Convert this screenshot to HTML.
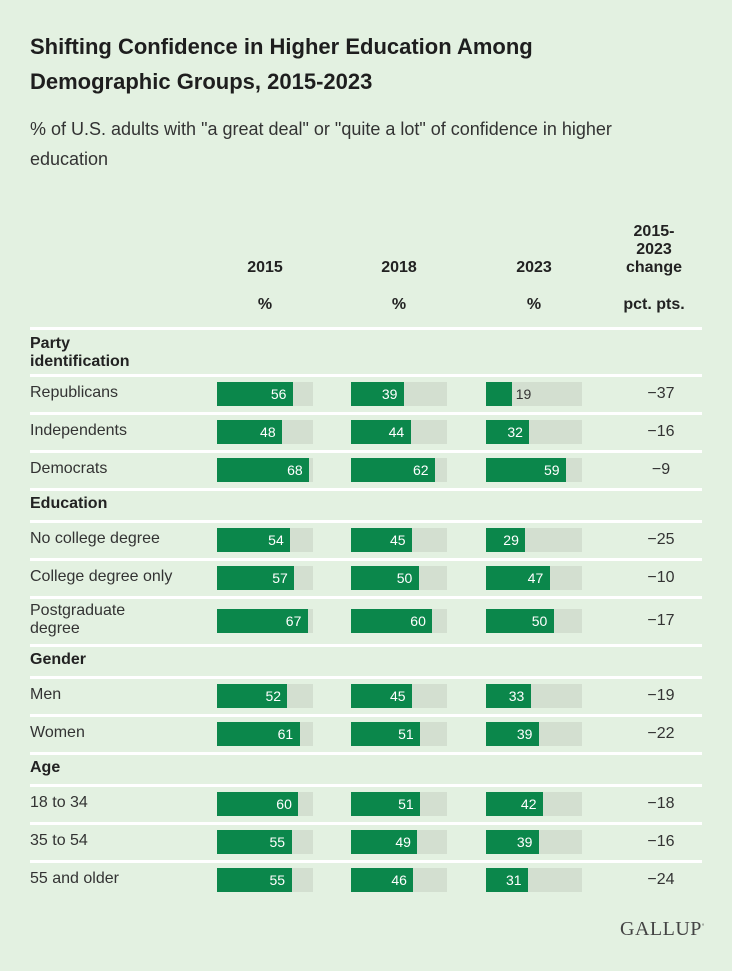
<!DOCTYPE html>
<html><head><meta charset="utf-8"><style>
body{margin:0;background:#e3f1e1;font-family:"Liberation Sans",Arial,sans-serif;color:#222;}
#wrap{position:relative;width:732px;height:971px;overflow:hidden;}
.t{position:absolute;white-space:nowrap;}
.title{left:30px;font-size:22px;font-weight:bold;color:#1e1e1e;}
.sub{left:30px;font-size:18px;color:#333;}
.hd{font-size:16px;font-weight:bold;text-align:center;width:100px;}
.sep{position:absolute;left:30px;width:672px;height:3px;background:#fff;}
.lab{left:30px;font-size:16px;color:#333;line-height:18px;}
.grp{left:30px;font-size:16px;font-weight:bold;line-height:18px;}
</style></head><body><div id="wrap">
<div class="t title" style="top:34px">Shifting Confidence in Higher Education Among</div>
<div class="t title" style="top:69px">Demographic Groups, 2015-2023</div>
<div class="t sub" style="top:119px">% of U.S. adults with "a great deal" or "quite a lot" of confidence in higher</div>
<div class="t sub" style="top:149px">education</div>
<div class="t hd" style="left:215px;top:259px">2015</div>
<div class="t hd" style="left:349px;top:259px">2018</div>
<div class="t hd" style="left:484px;top:259px">2023</div>
<div class="t hd" style="left:215px;top:296px">%</div>
<div class="t hd" style="left:349px;top:296px">%</div>
<div class="t hd" style="left:484px;top:296px">%</div>
<div class="t hd" style="left:604px;top:223px;line-height:18px">2015-<br>2023<br>change</div>
<div class="t hd" style="left:604px;top:296px">pct. pts.</div>
<div id="rows"></div>
<div class="t" style="left:620px;top:918px;font-family:'Liberation Serif',serif;font-size:20px;color:#444;letter-spacing:0.5px">GALLUP<sup style="font-size:6px">°</sup></div>
</div>
<script>
const labels=["Republicans","Independents","Democrats","No college degree","College degree only","Postgraduate degree","Men","Women","18 to 34","35 to 54","55 and older"];
const v2015=[56,48,68,54,57,67,52,61,60,55,55];
const v2018=[39,44,62,45,50,60,45,51,51,49,46];
const v2023=[19,32,59,29,47,50,33,39,42,39,31];
const changes=["−37","−16","−9","−25","−10","−17","−19","−22","−18","−16","−24"];
const groups=["Party identification","Education","Gender","Age"];
const groupStart=[0,3,6,8];
const W=document.getElementById('wrap');
const scale=1.355;
const cols=[217,351,486];
function add(cls,style,html){const d=document.createElement('div');d.className=cls;d.style.cssText=style;d.innerHTML=html;W.appendChild(d);return d;}
// layout rows
let y=327;
let sep=add('sep','top:'+y+'px','');


let gi=0;
for(let i=0;i<labels.length;i++){
  if(gi<groups.length&&groupStart[gi]===i){
    const two=groups[gi]==="Party identification";
    const h=two?47:32;
    const g=add('t grp','top:'+(y+(two?8:7))+'px;'+(two?'white-space:normal;width:120px':''),groups[gi]);
    
    
    y+=h;
    const s=add('sep','top:'+y+'px','');
    
    
    gi++;
  }
  const two=labels[i]==="Postgraduate degree";
  const h=two?48:38;
  const cy=y+h/2+1;
  const l=add('t lab','top:'+(cy-(two?18:9)-1)+'px;'+(two?'white-space:normal;width:120px':''),two?'Postgraduate<br>degree':labels[i]);
  
  
  [v2015,v2018,v2023].forEach((arr,k)=>{
    const v=arr[i];
    const bg=add('t','left:'+cols[k]+'px;top:'+(cy-12)+'px;width:96px;height:24px;background:#d3dfd0','');
    
    
    const b=add('t','left:'+cols[k]+'px;top:'+(cy-12)+'px;width:'+(v*scale)+'px;height:24px;background:#0b874b','');
    
    
    const inside=v*scale>34;
    const tx=add('t','top:'+(cy-8)+'px;font-size:14px;line-height:16px;'+(inside?'color:#fff;left:'+(cols[k]+v*scale-22)+'px':'color:#333;left:'+(cols[k]+v*scale+4)+'px'),String(v));
    
    
  });
  const c=add('t','left:611px;width:100px;text-align:center;top:'+(cy-9)+'px;font-size:16px;color:#333',changes[i]);
  
  
  y+=h;
  if(i<labels.length-1){
    const s=add('sep','top:'+y+'px','');
    
    
  }
}
</script>
</body></html>
